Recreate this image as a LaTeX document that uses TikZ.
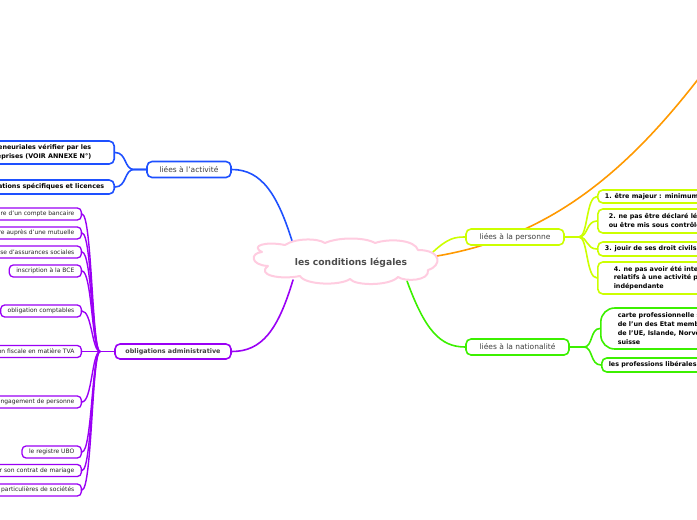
\documentclass[tikz,border=0pt]{standalone}
\usepackage{fontspec}
\setmainfont{DejaVu Sans}
\begin{document}
\begin{tikzpicture}[x=1pt,y=-1pt,
  line cap=round, line join=round,
  topicbox/.style={draw, line width=1.6pt, rounded corners=5pt, fill=white, text=black!75,
     font=\fontsize{7.5}{9}\selectfont, inner xsep=4pt, inner ysep=2pt, minimum height=16pt},
  subbox/.style={draw, line width=1.6pt, rounded corners=5pt, fill=white, text=black,
     font=\fontsize{6.4}{8.8}\selectfont\bfseries, inner ysep=2.5pt, minimum height=13pt},
  smallbox/.style={draw, line width=1.3pt, rounded corners=4pt, fill=white, text=black!85,
     font=\fontsize{6}{7}\selectfont, inner xsep=7pt, inner ysep=1.5pt, minimum height=12pt, anchor=east},
  conn/.style={line width=1.6pt},
]
\definecolor{cblue}{HTML}{1E50FF}
\definecolor{cpurple}{HTML}{9A00F5}
\definecolor{clime}{HTML}{CCFF00}
\definecolor{cgreen}{HTML}{3CF000}
\definecolor{corange}{HTML}{FF9900}
\definecolor{cpink}{HTML}{FFCCE0}
\useasboundingbox (0,0) rectangle (697,520);
\clip (0,0) rectangle (697,520);

% anchor points on the cloud
\coordinate (cbl) at (293,244);
\coordinate (cpu) at (293,280);
\coordinate (cli) at (433,252);
\coordinate (cgr) at (407,281);
\coordinate (cor) at (437,256);
\coordinate (orend) at (720,50);

% connectors from central topic
\draw[conn, corange] (cor) .. controls (560,235) and (640,160) .. (orend);

% topics
\node[topicbox, draw=cblue, minimum width=84pt] (act) at (189,169.5) {liées à l'activité};
\node[topicbox, draw=cpurple, minimum width=116pt, minimum height=15pt, font=\fontsize{6.4}{8}\selectfont\bfseries] (adm) at (173,351.5) {obligations administrative};
\node[topicbox, draw=clime, minimum width=98pt] (pers) at (515,237) {liées à la personne};
\node[topicbox, draw=cgreen, minimum width=103pt] (nat) at (517.5,347) {liées à la nationalité};

\draw[conn, cblue] (cbl) .. controls (278,195) and (262,169.5) .. (act.east);
\draw[conn, cpurple] (cpu) .. controls (278,330) and (262,351.5) .. (adm.east);
\draw[conn, clime] (cli) .. controls (448,238) and (455,237) .. (pers.west);
\draw[conn, cgreen] (cgr) .. controls (425,330) and (440,347) .. (nat.west);

% cloud (central topic)
\draw[cpink, line width=2pt, fill=white]
  (262,252) .. controls (250,246) and (265,241) .. (285,245)
  .. controls (295,238) and (318,238) .. (325,243)
  .. controls (338,237) and (365,237) .. (375,243)
  .. controls (390,238) and (415,240) .. (418,250)
  .. controls (442,250) and (442,266) .. (428,270)
  .. controls (430,281) and (405,282) .. (398,277)
  .. controls (390,286) and (355,286) .. (350,279)
  .. controls (340,286) and (305,285) .. (300,276)
  .. controls (280,280) and (256,275) .. (268,266)
  .. controls (250,265) and (250,253) .. (262,252) -- cycle;
\node[font=\fontsize{9.2}{11}\selectfont\bfseries, text=black!70] (center) at (351,262.5) {les conditions légales};

% blue children
\node[subbox, draw=cblue, anchor=east, align=right, inner xsep=23pt, minimum height=23pt] (b1) at (115,152.5)
  {capacités entrepreneuriales vérifier par les\\guichets d'entreprises (VOIR ANNEXE N°)\hspace{5pt}};
\node[subbox, draw=cblue, anchor=east, inner xsep=10pt, minimum height=14pt] (b2) at (115,187)
  {autorisations spécifiques et licences};
\coordinate (bhub) at (134,169.5);
\draw[conn, cblue] (act.west) -- (bhub) .. controls (124,169.5) and (127,152.5) .. (b1.east);
\draw[conn, cblue] (act.west) -- (bhub) .. controls (124,169.5) and (127,187) .. (b2.east);

% purple children
\node[smallbox, draw=cpurple] (p1) at (82,214) {être titulaire d'un compte bancaire};
\node[smallbox, draw=cpurple] (p2) at (82,233) {s'inscrire auprès d'une mutuelle};
\node[smallbox, draw=cpurple] (p3) at (82,252) {s'affilier à une caisse d'assurances sociales};
\node[smallbox, draw=cpurple] (p4) at (82,271) {inscription à la BCE};
\node[smallbox, draw=cpurple] (p5) at (82,311) {obligation comptables};
\node[smallbox, draw=cpurple] (p6) at (82,351.5) {identification fiscale en matière TVA};
\node[smallbox, draw=cpurple] (p7) at (82,402) {déclaration en cas d'engagement de personne};
\node[smallbox, draw=cpurple] (p8) at (82,452) {le registre UBO};
\node[smallbox, draw=cpurple] (p9) at (82,470.5) {déclarer son contrat de mariage};
\node[smallbox, draw=cpurple] (p10) at (82,490) {formes particulières de sociétés};
\coordinate (phub) at (100,351.5);
\draw[conn, cpurple] (adm.west) -- (phub);
\foreach \n in {p1,p2,p3,p4,p5,p6,p7,p8,p9,p10}{
  \draw[conn, cpurple, line width=1.4pt] (phub) .. controls (92,351.5) and ([xshift=10pt]\n.east) .. (\n.east);
}

% lime children
\node[subbox, draw=clime, anchor=west, align=left, inner xsep=7pt] (l1) at (597,196.5) {1. être majeur : minimum 18 ans};
\node[subbox, draw=clime, anchor=west, align=left, inner xsep=11pt, minimum height=24pt] (l2) at (597,221) {2. ne pas être déclaré légalement incapable\\ou être mis sous contrôle judiciaire};
\node[subbox, draw=clime, anchor=west, align=left, inner xsep=7pt, minimum height=14pt] (l3) at (597,249) {3. jouir de ses droit civils et politiques};
\node[subbox, draw=clime, anchor=west, align=left, inner xsep=16pt, minimum height=32pt] (l4) at (597,278) {4. ne pas avoir été interdit d'exercer des actes\\relatifs à une activité professionnelle\\indépendante};
\coordinate (lhub) at (579,237);
\draw[conn, clime] (pers.east) -- (lhub);
\foreach \n in {l1,l2,l3,l4}{
  \draw[conn, clime] (lhub) .. controls (588,237) and (586,0|-\n.west) .. (\n.west);
}

% green children
\node[subbox, draw=cgreen, anchor=west, align=left, inner xsep=17pt, rounded corners=14pt, minimum height=41pt] (g1) at (600,328.5)
  {carte professionnelle si non ressortissant\\de l'un des Etat membres\\de l'UE, Islande, Norvège ou\\suisse};
\node[subbox, draw=cgreen, anchor=west, inner xsep=7pt, minimum height=14pt] (g2) at (601,365) {les professions libérales réglementées};
\coordinate (ghub) at (584,347);
\draw[conn, cgreen] (nat.east) -- (ghub);
\draw[conn, cgreen] (ghub) .. controls (593,347) and (590,328.5) .. (g1.west);
\draw[conn, cgreen] (ghub) .. controls (593,347) and (590,365) .. (g2.west);
\end{tikzpicture}
\end{document}
